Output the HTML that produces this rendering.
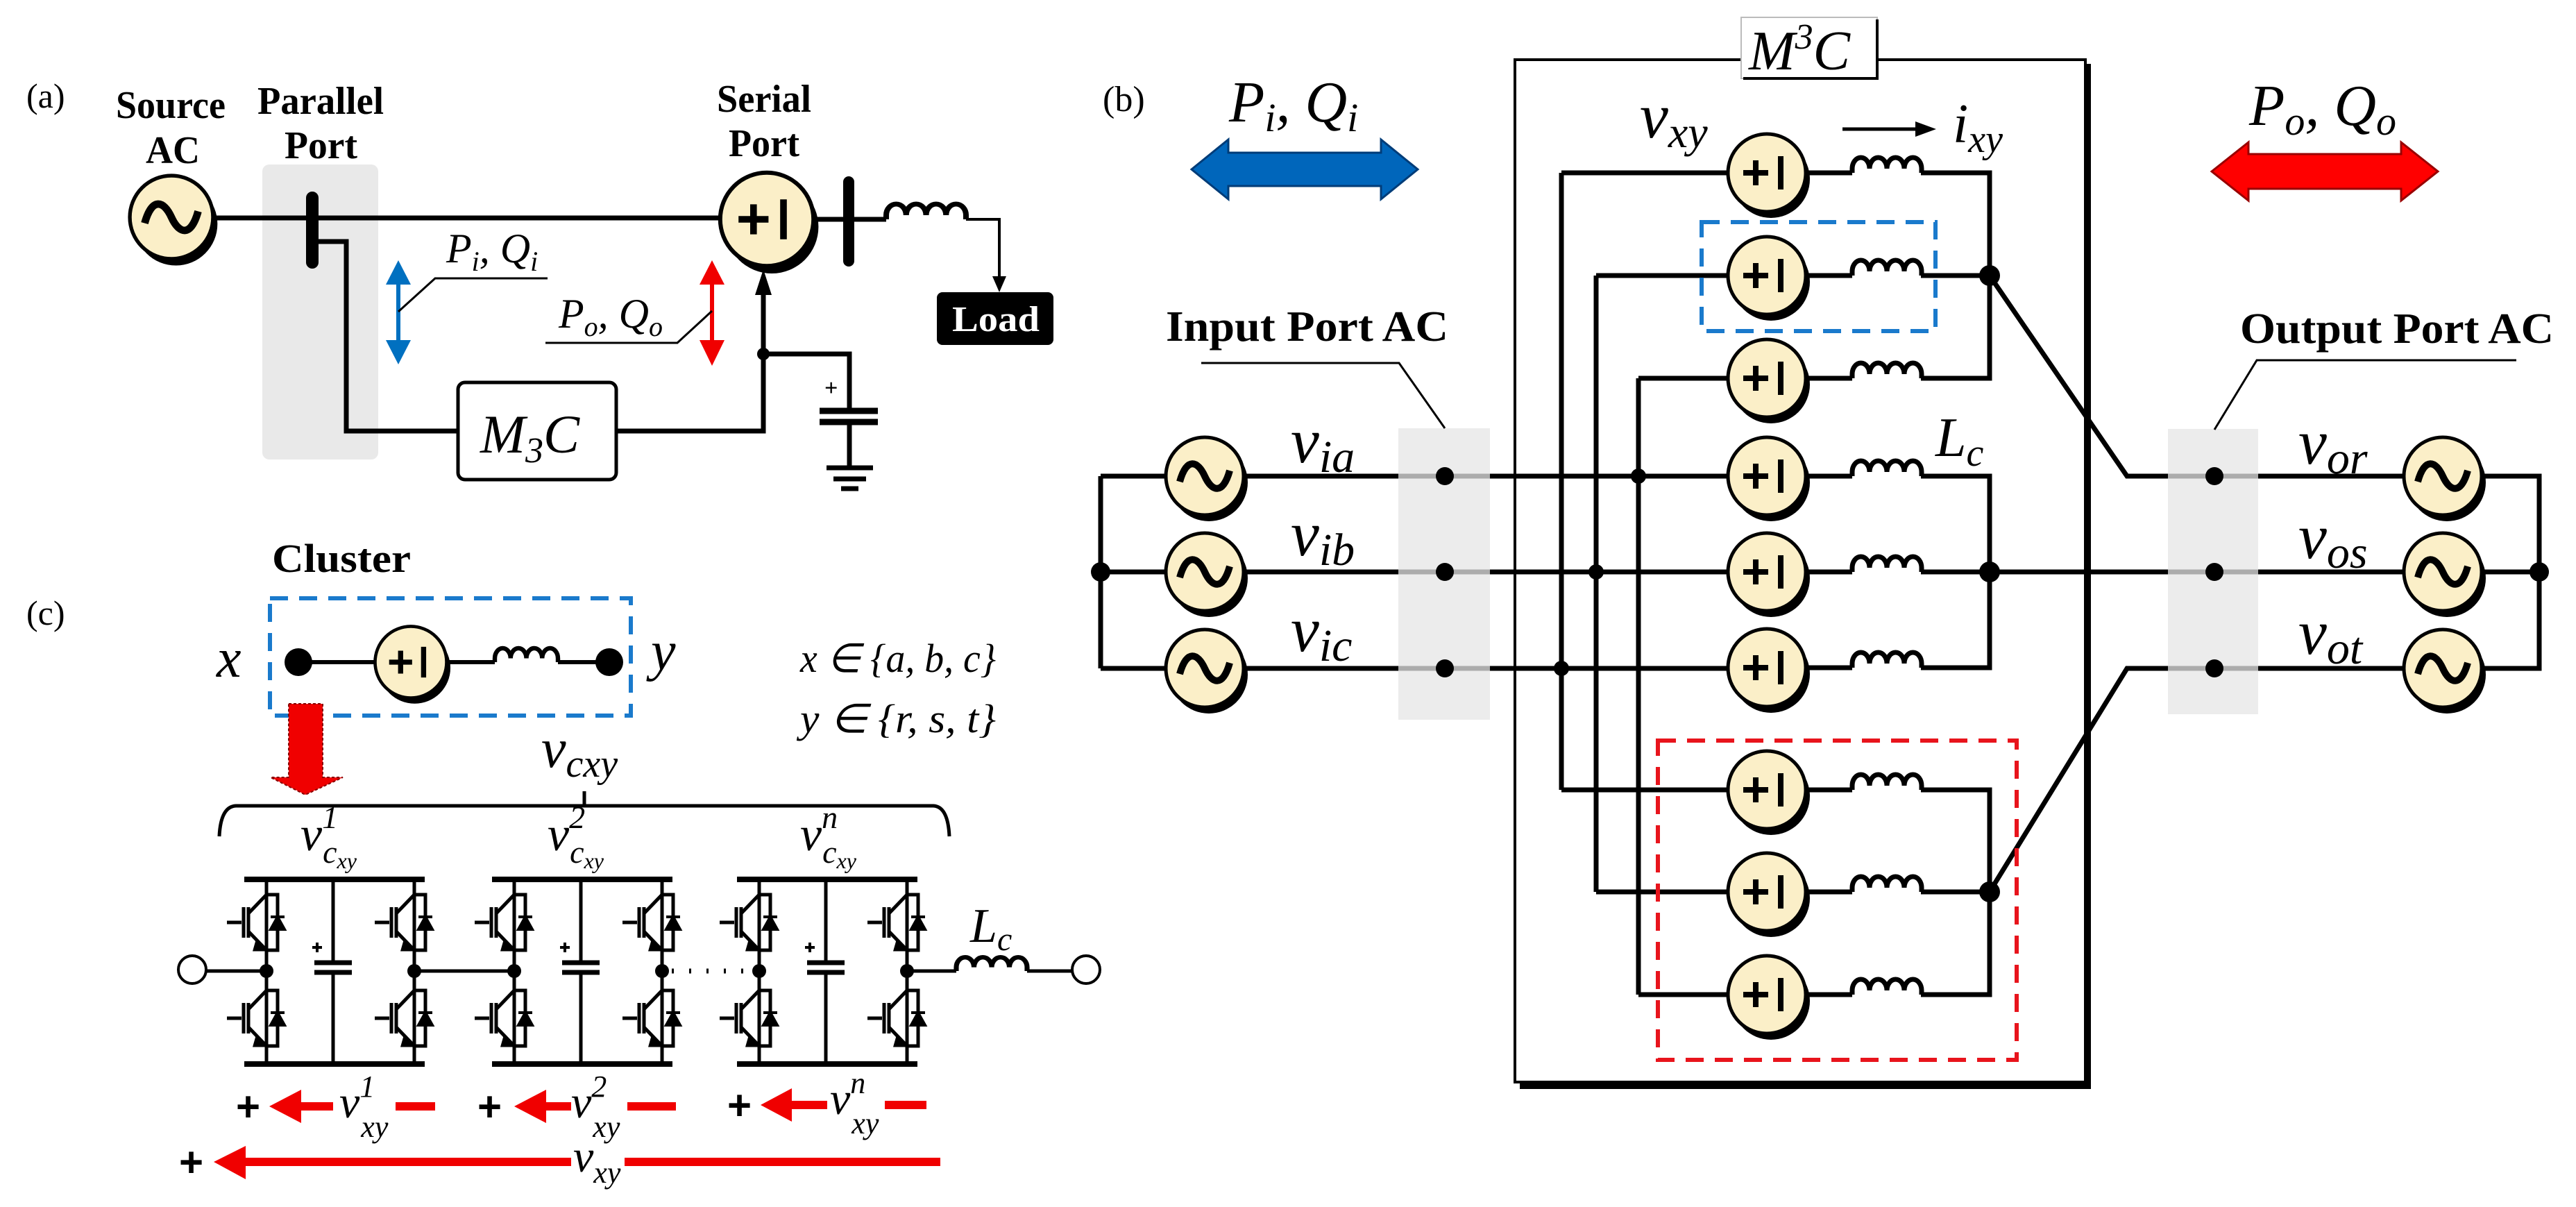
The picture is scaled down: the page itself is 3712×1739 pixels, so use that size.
<!DOCTYPE html>
<html><head><meta charset="utf-8"><style>
html,body{margin:0;padding:0;background:#fff;}
svg{display:block;}
text{font-family:"Liberation Serif",serif;}
.b{font-weight:bold;}
.i{font-style:italic;}
</style></head><body>
<svg width="3712" height="1739" viewBox="0 0 3712 1739" xmlns="http://www.w3.org/2000/svg">
<defs>
<g id="S">
<circle cx="6" cy="9" r="56" fill="#000"/>
<circle cx="0" cy="0" r="56" fill="#fbefc8" stroke="#000" stroke-width="5"/>
<path d="M-34 0 H2 M-16 -18 V18 M20 -24 V24" stroke="#000" stroke-width="8" fill="none"/>
</g>
<g id="A">
<circle cx="6" cy="9" r="56" fill="#000"/>
<circle cx="0" cy="0" r="56" fill="#fbefc8" stroke="#000" stroke-width="5"/>
<path d="M-36 8 C-26 -28 -10 -22 0 0 S 26 28 36 -8" stroke="#000" stroke-width="10" fill="none"/>
</g>
<path id="L" d="M0 0 v-6 a12.5 16 0 0 1 25 0 a12.5 16 0 0 1 25 0 a12.5 16 0 0 1 25 0 a12.5 16 0 0 1 25 0 v6" fill="none" stroke="#000" stroke-width="7"/>
<g id="sw" fill="none" stroke="#000" stroke-width="5">
<path d="M-57 0 H-36 M-33 -22 V22 M-26 -22 V22 M-26 -13 L0 -40 M-26 13 L0 40 M0 -40 H16 V40 H0"/>
<path d="M-14 26 L0 40 L-18 40 Z" fill="#000" stroke-width="3"/>
<path d="M6 10 H26 L16 -8 Z M6 -8 H26" fill="#000" stroke-width="4"/>
</g>
<g id="mod" fill="none" stroke="#000">
<path d="M0 0 H260 M0 266 H260" stroke-width="8"/>
<path d="M32 0 V266 M245 0 V266 M128 0 V120 M128 134 V266" stroke-width="5"/>
<path d="M101 120 H155 M101 134 H155" stroke-width="7"/>
<path d="M98 98 h14 M105 91 v14" stroke-width="4"/>
<use href="#sw" x="32" y="62"/><use href="#sw" x="32" y="200"/>
<use href="#sw" x="245" y="62"/><use href="#sw" x="245" y="200"/>
<circle cx="32" cy="132" r="10" fill="#000" stroke="none"/>
<circle cx="245" cy="132" r="10" fill="#000" stroke="none"/>
</g>
</defs>

<!-- ============ PANEL A ============ -->
<text x="38" y="155" font-size="50">(a)</text>
<text x="167" y="170" font-size="56" class="b" textLength="158" lengthAdjust="spacingAndGlyphs">Source</text>
<text x="210" y="235" font-size="56" class="b" textLength="78" lengthAdjust="spacingAndGlyphs">AC</text>
<text x="371" y="164" font-size="56" class="b" textLength="182" lengthAdjust="spacingAndGlyphs">Parallel</text>
<text x="410" y="228" font-size="56" class="b" textLength="105" lengthAdjust="spacingAndGlyphs">Port</text>
<text x="1033" y="161" font-size="56" class="b" textLength="136" lengthAdjust="spacingAndGlyphs">Serial</text>
<text x="1050" y="225" font-size="56" class="b" textLength="102" lengthAdjust="spacingAndGlyphs">Port</text>

<rect x="378" y="237" width="167" height="425" rx="10" fill="#e9e9e9"/>
<g fill="none" stroke="#000" stroke-width="7">
<path d="M300 314 H1040"/>
<path d="M450 348 H499 V621 H660"/>
<path d="M888 621 H1100 V420"/>
<path d="M1100 510 H1224 V592 M1224 608 V673"/>
<path d="M1172 316 H1277 M1392 316 H1440 V400" stroke-width="4"/>
</g>
<path d="M1172 316 H1277" stroke="#000" stroke-width="7"/>
<path d="M1392 316 H1440 V405" stroke="#000" stroke-width="4" fill="none"/>
<path d="M1430 398 L1440 421 L1450 398 Z" fill="#000"/>
<path d="M450 285 V378" stroke="#000" stroke-width="18" stroke-linecap="round"/>
<path d="M1223 262 V376" stroke="#000" stroke-width="16" stroke-linecap="round"/>
<path d="M1088 425 L1100 388 L1112 425 Z" fill="#000"/>
<circle cx="1100" cy="510" r="9" fill="#000"/>
<path d="M1181 592 H1265 M1181 608 H1265" stroke="#000" stroke-width="9"/>
<path d="M1191 674 H1258 M1201 690 H1248 M1212 704 H1237" stroke="#000" stroke-width="7"/>
<text x="1188" y="570" font-size="34" class="b">+</text>
<use href="#A" transform="translate(247,313) scale(1.07)"/>
<use href="#S" transform="translate(1105,316) scale(1.2)"/>
<use href="#L" transform="translate(1277,316) scale(1.15,1)"/>
<rect x="1350" y="421" width="168" height="76" rx="8" fill="#000"/>
<text x="1372" y="477" font-size="52" class="b" fill="#fff" textLength="126" lengthAdjust="spacingAndGlyphs">Load</text>
<rect x="660" y="551" width="228" height="140" rx="10" fill="#fff" stroke="#000" stroke-width="5"/>
<text x="692" y="652" font-size="78" class="i">M<tspan font-size="52" dy="14">3</tspan><tspan dy="-14">C</tspan></text>
<!-- a arrows -->
<g>
<path d="M574 405 V495" stroke="#0070c0" stroke-width="6"/>
<path d="M556 410 L574 375 L592 410 Z M556 490 L574 525 L592 490 Z" fill="#0070c0"/>
<path d="M1026 405 V495" stroke="#f00000" stroke-width="6"/>
<path d="M1008 410 L1026 375 L1044 410 Z M1008 490 L1026 527 L1044 490 Z" fill="#f00000"/>
</g>
<path d="M574 449 L627 401 H789 M786 494 H976 L1026 448" fill="none" stroke="#000" stroke-width="3"/>
<text x="643" y="378" font-size="60" class="i">P<tspan font-size="40" dy="12">i</tspan><tspan dy="-12">,</tspan> Q<tspan font-size="40" dy="12">i</tspan></text>
<text x="805" y="472" font-size="60" class="i">P<tspan font-size="40" dy="12">o</tspan><tspan dy="-12">,</tspan> Q<tspan font-size="40" dy="12">o</tspan></text>

<!-- ============ PANEL B ============ -->
<text x="1589" y="160" font-size="52">(b)</text>
<text x="1771" y="175" font-size="84" class="i">P<tspan font-size="58" dy="14">i</tspan><tspan dy="-14">,</tspan> Q<tspan font-size="58" dy="14">i</tspan></text>
<path d="M1717 244 L1770 201 V220 H1990 V201 L2043 244 L1990 287 V268 H1770 V287 Z" fill="#0066bb" stroke="#003c78" stroke-width="3"/>
<text x="3241" y="180" font-size="84" class="i">P<tspan font-size="58" dy="14">o</tspan><tspan dy="-14">,</tspan> Q<tspan font-size="58" dy="14">o</tspan></text>
<path d="M3187 247 L3240 205 V222 H3460 V205 L3513 247 L3460 289 V272 H3240 V289 Z" fill="#ff0000" stroke="#900" stroke-width="3"/>

<!-- M3C box -->
<rect x="2183" y="86" width="822" height="1473" fill="none" stroke="#000" stroke-width="4"/>
<path d="M3009 92 V1565 H2190" fill="none" stroke="#000" stroke-width="8"/>
<rect x="2509" y="25" width="196" height="88" fill="#fff" stroke="#bbb" stroke-width="2"/>
<path d="M2705 28 V113 H2512" fill="none" stroke="#000" stroke-width="4"/>
<text x="2520" y="100" font-size="80" class="i">M<tspan font-size="52" dy="-30">3</tspan><tspan dy="30">C</tspan></text>
<text x="2363" y="198" font-size="92" class="i">v<tspan font-size="64" dy="14">xy</tspan></text>
<path d="M2655 186 H2765" stroke="#000" stroke-width="5"/>
<path d="M2760 175 L2790 186 L2760 197 Z" fill="#000"/>
<text x="2814" y="205" font-size="80" class="i">i<tspan font-size="56" dy="14">xy</tspan></text>
<text x="2789" y="657" font-size="80" class="i">L<tspan font-size="56" dy="14">c</tspan></text>

<!-- wires -->
<g fill="none" stroke="#000" stroke-width="7">
<path d="M2250 249 H2500 M2300 397 H2500 M2361 545 H2500 M2250 1138 H2500 M2300 1285 H2500 M2361 1433 H2500"/>
<path d="M2250 249 V1138 M2300 397 V1285 M2361 545 V1433"/>
<path d="M1586 686 V963 M1586 686 H1690 M1586 824 H1690 M1586 963 H1690"/>
<path d="M1782 686 H2500 M1782 824 H2500 M1782 963 H2500"/>
<path d="M2768 249 H2867 V545 H2768 M2768 397 H2867 M2768 686 H2867 V962 H2768 M2768 824 H2867 M2768 1138 H2867 V1433 H2768 M2768 1285 H2867"/>
<path d="M2603 249 H2669 M2603 397 H2669 M2603 545 H2669 M2603 686 H2669 M2603 824 H2669 M2603 962 H2669 M2603 1138 H2669 M2603 1285 H2669 M2603 1433 H2669"/>
<path d="M2867 397 L3065 686 H3480 M2867 824 H3480 M2867 1285 L3065 963 H3480"/>
<path d="M3570 686 H3659 V963 H3570 M3570 824 H3659"/>
</g>
<use href="#L" x="2669" y="249"/><use href="#L" x="2669" y="397"/><use href="#L" x="2669" y="545"/>
<use href="#L" x="2669" y="686"/><use href="#L" x="2669" y="824"/><use href="#L" x="2669" y="962"/>
<use href="#L" x="2669" y="1138"/><use href="#L" x="2669" y="1285"/><use href="#L" x="2669" y="1433"/>
<use href="#S" x="2546" y="249"/><use href="#S" x="2546" y="397"/><use href="#S" x="2546" y="545"/>
<use href="#S" x="2546" y="686"/><use href="#S" x="2546" y="824"/><use href="#S" x="2546" y="962"/>
<use href="#S" x="2546" y="1138"/><use href="#S" x="2546" y="1285"/><use href="#S" x="2546" y="1433"/>
<use href="#A" x="1736" y="686"/><use href="#A" x="1736" y="824"/><use href="#A" x="1736" y="963"/>
<use href="#A" x="3520" y="686"/><use href="#A" x="3520" y="824"/><use href="#A" x="3520" y="963"/>
<rect x="2015" y="617" width="132" height="420" fill="#e6e6e6" opacity="0.75"/>
<rect x="3124" y="618" width="130" height="411" fill="#e6e6e6" opacity="0.75"/>
<g fill="#000">
<circle cx="1586" cy="824" r="14"/><circle cx="3659" cy="824" r="14"/>
<circle cx="2082" cy="686" r="13"/><circle cx="2082" cy="824" r="13"/><circle cx="2082" cy="963" r="13"/>
<circle cx="3191" cy="686" r="13"/><circle cx="3191" cy="824" r="13"/><circle cx="3191" cy="963" r="13"/>
<circle cx="2361" cy="686" r="11"/><circle cx="2300" cy="824" r="11"/><circle cx="2250" cy="963" r="11"/>
<circle cx="2867" cy="397" r="15"/><circle cx="2867" cy="824" r="15"/><circle cx="2867" cy="1285" r="15"/>
</g>
<rect x="2452" y="320" width="337" height="157" fill="none" stroke="#1a7acc" stroke-width="6" stroke-dasharray="26,16"/>
<rect x="2389" y="1067" width="517" height="460" fill="none" stroke="#e8141c" stroke-width="6" stroke-dasharray="26,16"/>
<text x="1680" y="491" font-size="62" class="b" textLength="407" lengthAdjust="spacingAndGlyphs">Input Port AC</text>
<path d="M1731 523 H2016 L2082 617" fill="none" stroke="#000" stroke-width="3"/>
<text x="3228" y="494" font-size="62" class="b" textLength="452" lengthAdjust="spacingAndGlyphs">Output Port AC</text>
<path d="M3626 519 H3252 L3191 619" fill="none" stroke="#000" stroke-width="3"/>
<text x="1860" y="666" font-size="92" class="i">v<tspan font-size="66" dy="14">ia</tspan></text>
<text x="1860" y="800" font-size="92" class="i">v<tspan font-size="66" dy="14">ib</tspan></text>
<text x="1860" y="938" font-size="92" class="i">v<tspan font-size="66" dy="14">ic</tspan></text>
<text x="3312" y="668" font-size="92" class="i">v<tspan font-size="66" dy="14">or</tspan></text>
<text x="3312" y="804" font-size="92" class="i">v<tspan font-size="66" dy="14">os</tspan></text>
<text x="3312" y="942" font-size="92" class="i">v<tspan font-size="66" dy="14">ot</tspan></text>

<!-- ============ PANEL C ============ -->
<text x="38" y="900" font-size="50">(c)</text>
<text x="392" y="824" font-size="58" class="b" textLength="200" lengthAdjust="spacingAndGlyphs">Cluster</text>
<rect x="389" y="862" width="520" height="169" fill="none" stroke="#1a7acc" stroke-width="6" stroke-dasharray="26,16"/>
<path d="M430 954 H540 M640 954 H713 M804 954 H878" stroke="#000" stroke-width="6"/>
<use href="#L" transform="translate(713,954) scale(0.91)"/>
<use href="#S" transform="translate(592,954) scale(0.92)"/>
<circle cx="430" cy="954" r="20" fill="#000"/><circle cx="878" cy="954" r="20" fill="#000"/>
<text x="312" y="975" font-size="80" class="i">x</text>
<text x="938" y="965" font-size="80" class="i">y</text>
<text x="1153" y="968" font-size="58" class="i" textLength="282" lengthAdjust="spacingAndGlyphs">x ∈ {a, b, c}</text>
<text x="1153" y="1055" font-size="58" class="i" textLength="282" lengthAdjust="spacingAndGlyphs">y ∈ {r, s, t}</text>
<path d="M416 1014 H465 V1120 H494 L440 1145 L390 1120 H416 Z" fill="#f00000" stroke="#800" stroke-width="2" stroke-dasharray="4,3"/>
<text x="780" y="1105" font-size="80" class="i">v<tspan font-size="56" dy="14">cxy</tspan></text>
<path d="M316 1205 Q318 1162 340 1161 H1345 Q1366 1162 1368 1205 M842 1140 V1161" fill="none" stroke="#000" stroke-width="5"/>
<text x="433" y="1225" font-size="70" class="i">v<tspan font-size="46" dy="-32">1</tspan><tspan font-size="46" dx="-22" dy="50">c</tspan><tspan font-size="32" dy="8">xy</tspan></text>
<text x="789" y="1225" font-size="70" class="i">v<tspan font-size="46" dy="-32">2</tspan><tspan font-size="46" dx="-22" dy="50">c</tspan><tspan font-size="32" dy="8">xy</tspan></text>
<text x="1153" y="1225" font-size="70" class="i">v<tspan font-size="46" dy="-32">n</tspan><tspan font-size="46" dx="-22" dy="50">c</tspan><tspan font-size="32" dy="8">xy</tspan></text>
<use href="#mod" x="352" y="1267"/>
<use href="#mod" x="709" y="1267"/>
<use href="#mod" x="1062" y="1267"/>
<path d="M297 1399 H384 M597 1399 H741 M1307 1399 H1378 M1480 1399 H1545" stroke="#000" stroke-width="5"/>
<path d="M968 1399 H1080" stroke="#000" stroke-width="7" stroke-dasharray="3,22"/>
<use href="#L" transform="translate(1378,1399) scale(1.02,0.9)"/>
<circle cx="277" cy="1397" r="20" fill="#fff" stroke="#000" stroke-width="4"/>
<circle cx="1565" cy="1397" r="20" fill="#fff" stroke="#000" stroke-width="4"/>
<text x="1398" y="1357" font-size="70" class="i">L<tspan font-size="48" dy="12">c</tspan></text>

<!-- red voltage arrows -->
<g fill="#f00000">
<path d="M434 1594 H480" stroke="#f00000" stroke-width="12"/><path d="M388 1594 L434 1570 V1618 Z"/>
<path d="M570 1594 H627" stroke="#f00000" stroke-width="12"/>
<path d="M787 1594 H823" stroke="#f00000" stroke-width="12"/><path d="M741 1594 L787 1570 V1618 Z"/>
<path d="M904 1594 H974" stroke="#f00000" stroke-width="12"/>
<path d="M1141 1592 H1192" stroke="#f00000" stroke-width="12"/><path d="M1096 1592 L1141 1568 V1616 Z"/>
<path d="M1275 1592 H1335" stroke="#f00000" stroke-width="12"/>
<path d="M354 1674 H823 M900 1674 H1355" stroke="#f00000" stroke-width="12"/><path d="M308 1674 L354 1651 V1699 Z"/>
</g>
<g font-size="60" class="b" font-family="Liberation Sans, sans-serif">
<text x="340" y="1615" style="font-family:'Liberation Sans',sans-serif" font-weight="bold">+</text>
<text x="688" y="1615" style="font-family:'Liberation Sans',sans-serif" font-weight="bold">+</text>
<text x="1048" y="1613" style="font-family:'Liberation Sans',sans-serif" font-weight="bold">+</text>
<text x="258" y="1695" style="font-family:'Liberation Sans',sans-serif" font-weight="bold">+</text>
</g>
<text x="489" y="1610" font-size="66" class="i">v<tspan font-size="44" dy="-30">1</tspan><tspan font-size="44" dx="-20" dy="58">xy</tspan></text>
<text x="823" y="1610" font-size="66" class="i">v<tspan font-size="44" dy="-30">2</tspan><tspan font-size="44" dx="-20" dy="58">xy</tspan></text>
<text x="1196" y="1605" font-size="66" class="i">v<tspan font-size="44" dy="-30">n</tspan><tspan font-size="44" dx="-20" dy="58">xy</tspan></text>
<text x="826" y="1688" font-size="66" class="i">v<tspan font-size="44" dy="16">xy</tspan></text>
</svg>
</body></html>
